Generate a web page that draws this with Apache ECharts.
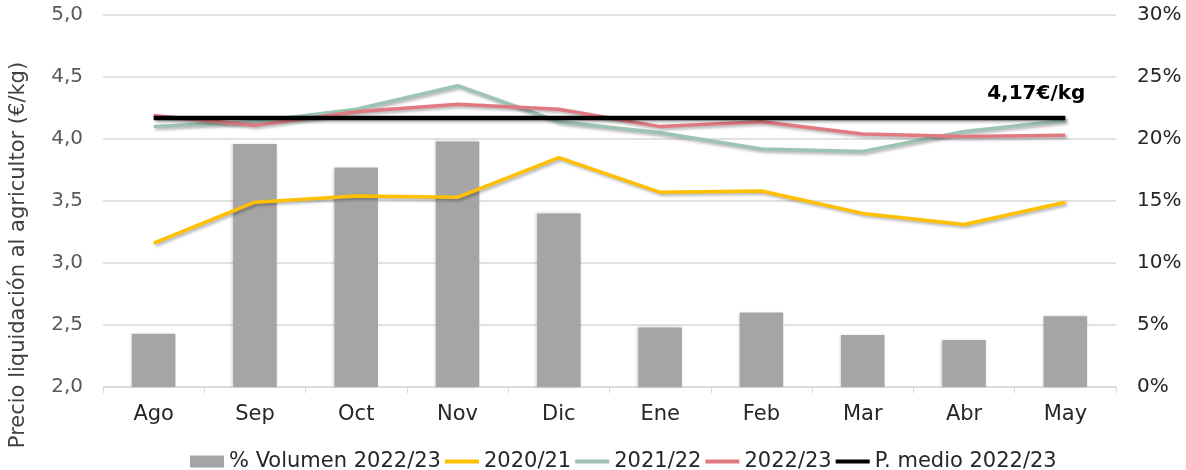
<!DOCTYPE html>
<html>
<head>
<meta charset="utf-8">
<script src="https://cdn.jsdelivr.net/npm/echarts@6/dist/echarts.min.js"></script>
<style>
  html, body { margin: 0; padding: 0; background: #fff; }
  #chart { width: 1186px; height: 470px; }
</style>
</head>
<body>
<div id="chart"></div>
<script>
// datos de la campaña
const meses = ['Ago', 'Sep', 'Oct', 'Nov', 'Dic', 'Ene', 'Feb', 'Mar', 'Abr', 'May']
const volumen2223 = [4.3, 19.6, 17.7, 19.8, 14.0, 4.8, 6.0, 4.2, 3.8, 5.7]
const precio2021 = [3.16, 3.49, 3.54, 3.53, 3.85, 3.57, 3.58, 3.40, 3.31, 3.49]
const precio2122 = [4.10, 4.14, 4.24, 4.43, 4.14, 4.05, 3.92, 3.90, 4.06, 4.15]
const precio2223 = [4.19, 4.11, 4.22, 4.28, 4.24, 4.10, 4.14, 4.04, 4.02, 4.03]
const precioMedio = 4.17

const font = 'DejaVu Sans'
const lineShadow = {
  shadowColor: 'rgba(0, 0, 0, 0.3)',
  shadowBlur: 3,
  shadowOffsetX: 2,
  shadowOffsetY: 2
}
// icono de linea fina para la leyenda (la caja completa es 34x12)
const lineIcon = 'path://M0,0 M0,4 L34,4 L34,8 L0,8 Z M34,12'

const chart = echarts.init(document.getElementById('chart'))

const option = {
  animation: false,
  textStyle: { fontFamily: font },
  grid: {
    left: 102,
    right: 70,
    top: 15,
    bottom: 83
  },
  legend: {
    left: 185,
    top: 446,
    itemGap: 4,
    itemWidth: 34,
    itemHeight: 12,
    textStyle: { fontSize: 21, color: '#262626', fontFamily: font },
    data: [
      { name: '% Volumen 2022/23', icon: 'rect' },
      { name: '2020/21', icon: lineIcon },
      { name: '2021/22', icon: lineIcon },
      { name: '2022/23', icon: lineIcon },
      { name: 'P. medio 2022/23', icon: lineIcon }
    ]
  },
  xAxis: {
    type: 'category',
    data: meses,
    axisLine: { lineStyle: { color: '#d9d9d9', width: 1.5 } },
    axisTick: { show: true, length: 6, lineStyle: { color: '#d9d9d9' } },
    axisLabel: { fontSize: 21, color: '#262626', margin: 17 }
  },
  yAxis: [
    {
      type: 'value',
      min: 2,
      max: 5,
      interval: 0.5,
      name: 'Precio liquidación al agricultor (€/kg)',
      nameLocation: 'middle',
      nameGap: 74,
      nameTextStyle: { fontSize: 21, color: '#404040', padding: [0, 108, 0, 0] },
      axisLine: { show: false },
      axisTick: { show: false },
      axisLabel: {
        fontSize: 20,
        color: '#595959',
        margin: 20,
        formatter: (v) => v.toFixed(1).replace('.', ',')
      },
      splitLine: { lineStyle: { color: '#d9d9d9', width: 1.5 } }
    },
    {
      type: 'value',
      min: 0,
      max: 30,
      interval: 5,
      axisLine: { show: false },
      axisTick: { show: false },
      axisLabel: {
        fontSize: 20,
        color: '#262626',
        margin: 21,
        formatter: '{value}%'
      },
      splitLine: { show: false }
    }
  ],
  series: [
    {
      name: '% Volumen 2022/23',
      type: 'bar',
      yAxisIndex: 1,
      barWidth: '43%',
      data: volumen2223,
      itemStyle: {
        color: '#a5a5a5',
        shadowColor: 'rgba(0, 0, 0, 0.2)',
        shadowBlur: 3,
        shadowOffsetX: -1
      }
    },
    {
      name: '2020/21',
      type: 'line',
      symbol: 'none',
      data: precio2021,
      lineStyle: Object.assign({ color: '#ffc000', width: 3.5 }, lineShadow),
      itemStyle: { color: '#ffc000' }
    },
    {
      name: '2021/22',
      type: 'line',
      symbol: 'none',
      data: precio2122,
      lineStyle: Object.assign({ color: '#9dc3b3', width: 3.5 }, lineShadow),
      itemStyle: { color: '#9dc3b3' }
    },
    {
      name: '2022/23',
      type: 'line',
      symbol: 'none',
      data: precio2223,
      lineStyle: Object.assign({ color: '#e07a80', width: 3.5 }, lineShadow),
      itemStyle: { color: '#e07a80' }
    },
    {
      name: 'P. medio 2022/23',
      type: 'line',
      symbol: 'none',
      data: meses.map(() => precioMedio),
      lineStyle: Object.assign({ color: '#000', width: 4.5 }, lineShadow),
      itemStyle: { color: '#000' },
      endLabel: {
        show: true,
        formatter: () => precioMedio.toFixed(2).replace('.', ',') + '€/kg',
        align: 'right',
        distance: 20,
        offset: [0, -24],
        fontSize: 20,
        fontWeight: 'bold',
        color: '#000'
      }
    }
  ]
}

chart.setOption(option)
</script>
</body>
</html>
